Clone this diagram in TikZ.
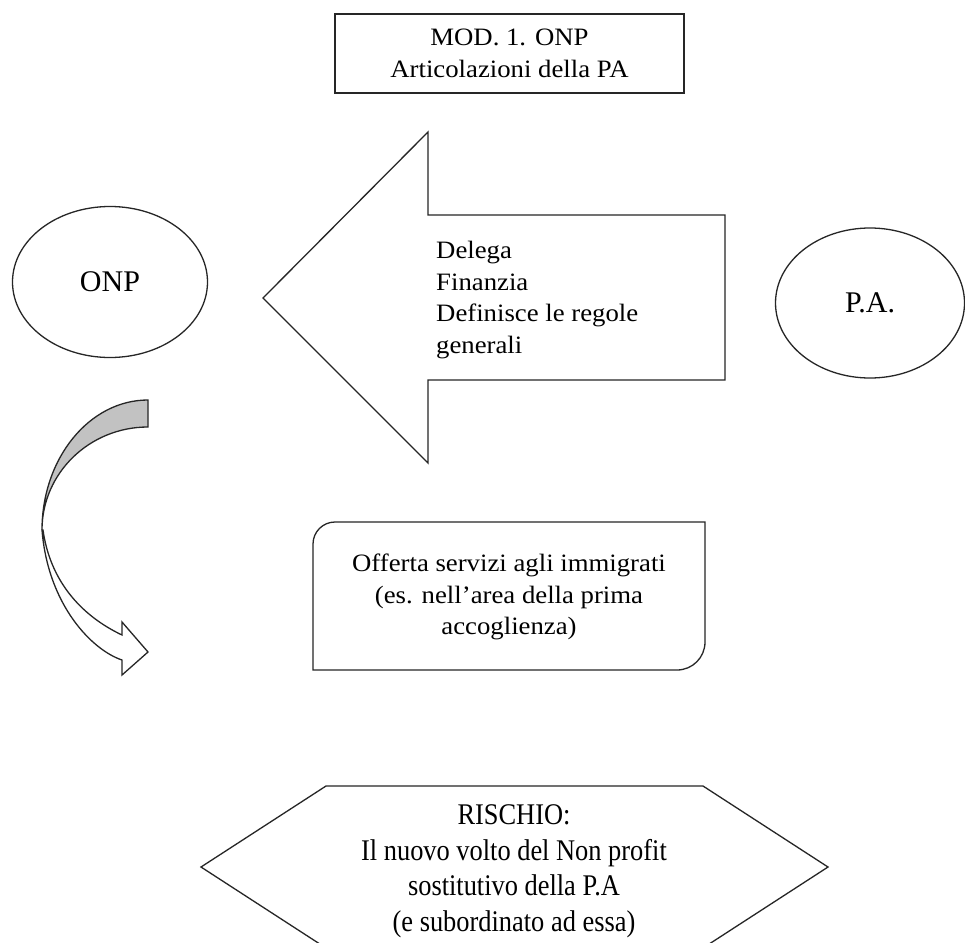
\documentclass[tikz,border=0pt]{standalone}
\usepackage{fontspec}
\setmainfont{Liberation Serif}
\newfontfamily\cmb[FakeStretch=1.07]{Liberation Serif}
\newfontfamily\tnr[FakeStretch=0.88]{Liberation Serif}
\usetikzlibrary{shapes.geometric}
\definecolor{edge}{gray}{0.15}
\definecolor{backgray}{gray}{0.76}
\tikzset{
  outl/.style={draw=edge, line width=1.3pt, line join=miter},
  cmbtext/.style={font=\cmb\fontsize{25}{31.5}\selectfont, inner sep=0pt},
  ovaltext/.style={ellipse, outl, inner sep=0pt, font=\fontsize{30}{34}\selectfont},
  risktext/.style={font=\tnr\fontsize{30}{35.5}\selectfont, inner sep=0pt, align=center}
}
\begin{document}
\begin{tikzpicture}[x=1pt,y=-1pt]
\useasboundingbox (0,0) rectangle (965,942);
\clip (0,0) rectangle (965,942);
\fill[white] (0,0) rectangle (965,942);

% title box
\node[outl, cmbtext, align=center, minimum width=349pt, minimum height=79pt] (title) at (509.5,53.5)
  {MOD. 1. ONP\\Articolazioni della PA};

% ellipses
\node[ovaltext, minimum width=195pt, minimum height=151pt] (onp) at (110,282) {ONP};
\node[ovaltext, minimum width=189pt, minimum height=150pt] (pa) at (870,303) {P.A.};

% big left arrow
\draw[outl, fill=white] (263,298) -- (428,132) -- (428,215) -- (725,215) -- (725,380)
  -- (428,380) -- (428,463) -- cycle;
\node[cmbtext, align=left, anchor=west] (delega) at (436,300)
  {Delega\\Finanzia\\Definisce le regole\\generali};

% curved arrow: back (gray) part
\draw[outl, fill=backgray] (148,400) arc[start angle=-90, end angle=-180, x radius=106, y radius=130]
  arc[start angle=180, end angle=270, x radius=106, y radius=103] -- cycle;
% front (white) part
\draw[outl, fill=white] (42,530) .. controls (48,605) and (92,650) .. (122,660)
  -- (122,675) -- (148,652) -- (122,622) -- (122,635)
  .. controls (80,615) and (50,580) .. (43,530) -- cycle;

% rounded diagonal box
\draw[outl, fill=white] (335,522) -- (705,522) -- (705,642)
  arc[start angle=0, end angle=90, radius=28] -- (313,670) -- (313,544)
  arc[start angle=180, end angle=270, radius=22] -- cycle;
\node[cmbtext, align=center] (offerta) at (509,597)
  {Offerta servizi agli immigrati\\(es. nell’area della prima\\accoglienza)};

% hexagon
\draw[outl, fill=white] (201,867) -- (326,786) -- (703,786) -- (828,867) -- (703,948)
  -- (326,948) -- cycle;
\node[risktext] (rischio) at (514,871)
  {RISCHIO:\\Il nuovo volto del Non profit\\sostitutivo della P.A\\(e subordinato ad essa)};
\end{tikzpicture}
\end{document}
